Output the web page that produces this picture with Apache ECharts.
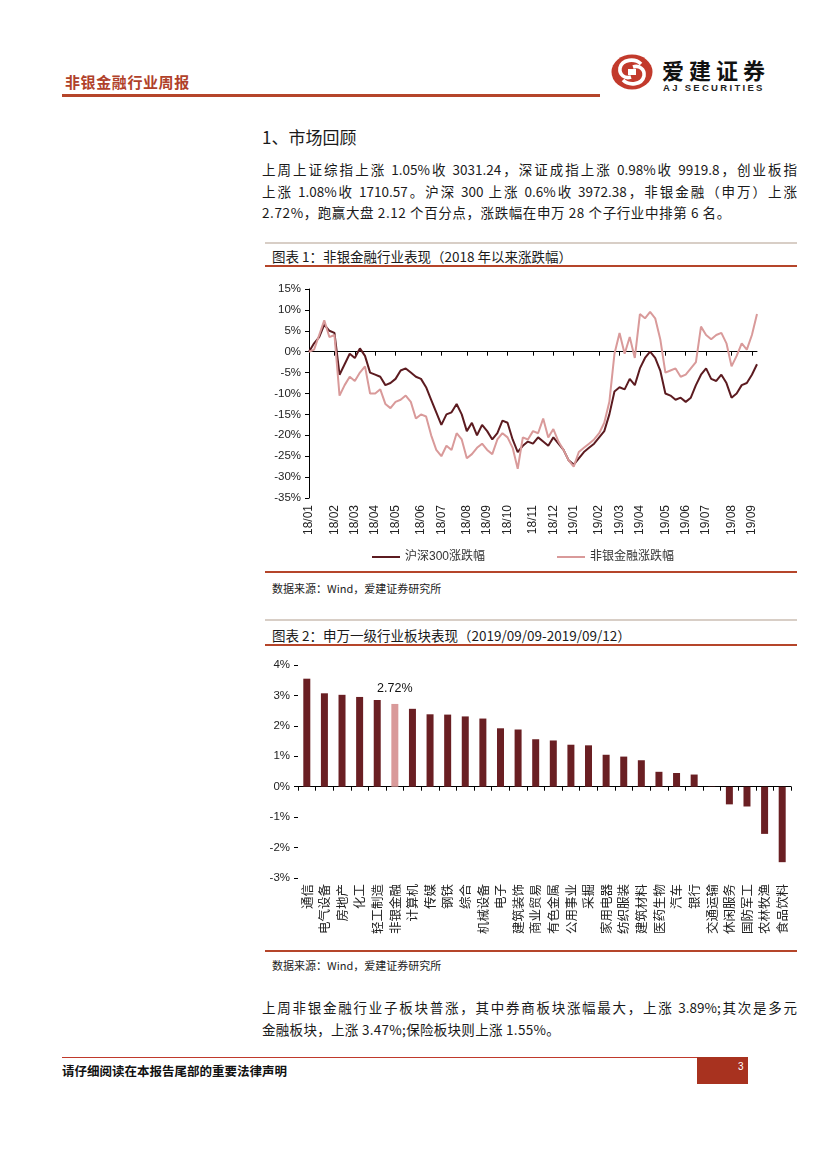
<!DOCTYPE html>
<html>
<head>
<meta charset="utf-8">
<script src="https://cdn.jsdelivr.net/npm/echarts@6/dist/echarts.min.js"></script>
<style>
body{margin:0;width:827px;height:1169px;position:relative;background:#fff;font-family:"Noto Sans CJK SC",sans-serif;color:#1a1a1a;overflow:hidden;}
.abs{position:absolute;}
.p{position:absolute;left:262px;width:535px;font-size:13.5px;line-height:21.5px;text-align:justify;text-align-last:justify;}
.pl{position:absolute;left:262px;font-size:13.5px;line-height:21.5px;white-space:nowrap;}
.gray{position:absolute;left:265px;width:532px;height:2px;background:#d8cec6;}
.red{position:absolute;left:265px;width:532px;height:2px;background:#b5452a;}
.ttl{position:absolute;left:272px;font-size:13.5px;line-height:16px;white-space:nowrap;}
.src{position:absolute;left:272px;font-size:11px;line-height:14px;white-space:nowrap;color:#222;}
</style>
</head>
<body>
<!-- header -->
<div class="abs" style="left:65px;top:73px;font-size:15px;line-height:18px;font-weight:bold;color:#b0412a;letter-spacing:0.6px;">非银金融行业周报</div>
<div class="abs" style="left:62px;top:94px;width:538px;height:3px;background:#b5452a;"></div>
<svg class="abs" style="left:610px;top:53px;" width="44" height="38" viewBox="0 0 44 38">
  <ellipse cx="22" cy="19" rx="20.5" ry="17.5" fill="#c23a2c"/>
  <path d="M31 11 C25 5,12 6,10 15 C9 22,15 26,21 24" stroke="#fff" stroke-width="3.6" fill="none"/>
  <path d="M13 27 C19 33,32 32,34 23 C35 16,29 12,23 14" stroke="#fff" stroke-width="3.6" fill="none"/>
  <rect x="18" y="16" width="8" height="6" fill="#fff"/>
</svg>
<div class="abs" style="left:662px;top:56px;font-size:22px;line-height:26px;letter-spacing:5px;color:#111;font-weight:bold;">爱建证券</div>
<div class="abs" style="left:663px;top:82px;font-size:9.5px;line-height:11px;letter-spacing:2.3px;color:#222;font-weight:bold;font-family:'Liberation Sans',Arial,sans-serif;">AJ SECURITIES</div>

<!-- section -->
<div class="abs" style="left:262px;top:126px;font-size:17px;line-height:22px;">1、市场回顾</div>
<div class="p" style="top:159px;">上周上证综指上涨 1.05%收 3031.24，深证成指上涨 0.98%收 9919.8，创业板指</div>
<div class="p" style="top:181px;">上涨 1.08%收 1710.57。沪深 300 上涨 0.6%收 3972.38，非银金融（申万）上涨</div>
<div class="pl" style="top:202px;letter-spacing:0.6px;">2.72%，跑赢大盘 2.12 个百分点，涨跌幅在申万 28 个子行业中排第 6 名。</div>

<!-- chart 1 -->
<div class="gray" style="top:242px;"></div>
<div class="ttl" style="top:248px;">图表 1：非银金融行业表现（2018 年以来涨跌幅）</div>
<div class="red" style="top:265px;"></div>
<div id="c1" class="abs" style="left:262px;top:270px;width:540px;height:300px;"></div>
<div class="red" style="top:571px;"></div>
<div class="src" style="top:581px;">数据来源：Wind，爱建证券研究所</div>

<!-- chart 2 -->
<div class="gray" style="top:619px;"></div>
<div class="ttl" style="top:627px;">图表 2：申万一级行业板块表现（2019/09/09-2019/09/12）</div>
<div class="red" style="top:644px;"></div>
<div id="c2" class="abs" style="left:262px;top:650px;width:540px;height:300px;"></div>
<div class="red" style="top:950px;"></div>
<div class="src" style="top:958px;">数据来源：Wind，爱建证券研究所</div>

<div class="p" style="top:997px;">上周非银金融行业子板块普涨，其中券商板块涨幅最大，上涨 3.89%;其次是多元</div>
<div class="pl" style="top:1019px;letter-spacing:0.3px;">金融板块，上涨 3.47%;保险板块则上涨 1.55%。</div>

<!-- footer -->
<div class="abs" style="left:62px;top:1057px;width:635px;height:1px;background:#c0392b;"></div>
<div class="abs" style="left:697px;top:1057px;width:51px;height:27px;background:#a8321f;"></div>
<div class="abs" style="left:738px;top:1061px;font-size:10px;line-height:12px;color:#fff;font-family:'Liberation Sans',sans-serif;">3</div>
<div class="abs" style="left:62px;top:1063px;font-size:12.5px;line-height:16px;font-weight:bold;color:#111;">请仔细阅读在本报告尾部的重要法律声明</div>

<script>
// ---------- Chart 1 data (weekly, % change since 2018-01-02) ----------
const weekDates = [
 '2018-01-02','2018-01-09','2018-01-16','2018-01-23','2018-01-30','2018-02-06','2018-02-13','2018-02-20','2018-02-27',
 '2018-03-06','2018-03-13','2018-03-20','2018-03-27','2018-04-03','2018-04-10','2018-04-17','2018-04-24',
 '2018-05-01','2018-05-08','2018-05-15','2018-05-22','2018-05-29','2018-06-05','2018-06-12','2018-06-19','2018-06-26',
 '2018-07-03','2018-07-10','2018-07-17','2018-07-24','2018-07-31','2018-08-07','2018-08-14','2018-08-21','2018-08-28',
 '2018-09-04','2018-09-11','2018-09-18','2018-09-25','2018-10-02','2018-10-09','2018-10-16','2018-10-23','2018-10-30',
 '2018-11-06','2018-11-13','2018-11-20','2018-11-27','2018-12-04','2018-12-11','2018-12-18','2018-12-25',
 '2019-01-01','2019-01-08','2019-01-15','2019-01-22','2019-01-29','2019-02-05','2019-02-12','2019-02-19','2019-02-26',
 '2019-03-05','2019-03-12','2019-03-19','2019-03-26','2019-04-02','2019-04-09','2019-04-16','2019-04-23','2019-04-30',
 '2019-05-07','2019-05-14','2019-05-21','2019-05-28','2019-06-04','2019-06-11','2019-06-18','2019-06-25',
 '2019-07-02','2019-07-09','2019-07-16','2019-07-23','2019-07-30','2019-08-06','2019-08-13','2019-08-20','2019-08-27',
 '2019-09-03','2019-09-12'
];
const hs300 = [
 0, 2.0, 3.5, 6.5, 5.0, 4.5, -5.5, -3.0, -0.5,
 -1.5, 0.8, -1.0, -5.0, -5.5, -6.0, -8.0, -7.5,
 -6.5, -4.5, -4.0, -5.0, -6.0, -6.5, -8.5, -11.5, -14.5,
 -17.5, -15.0, -14.5, -12.5, -15.0, -19.0, -17.0, -20.0, -17.5,
 -19.0, -21.0, -19.5, -16.5, -17.0, -21.0, -24.0, -22.5, -21.5,
 -22.0, -20.5, -21.5, -22.5, -20.5, -22.0, -23.5, -26.0,
 -27.0, -25.5, -24.0, -23.0, -22.0, -20.5, -19.0, -15.0, -9.5,
 -8.5, -9.0, -6.5, -8.0, -4.0, -1.5, 0.0, -1.5, -4.5,
 -10.0, -10.5, -11.5, -11.0, -12.0, -11.0, -8.0, -5.5,
 -4.0, -6.5, -7.0, -5.5, -7.5, -11.0, -10.0, -8.0, -7.5,
 -5.5, -3.0
];
const nonBank = [
 0, 0.5, 4.0, 7.5, 3.5, 4.0, -10.5, -8.0, -6.0,
 -7.0, -5.0, -3.5, -10.0, -10.0, -9.0, -12.5, -13.5,
 -12.0, -11.5, -10.5, -12.0, -16.0, -15.0, -15.5, -20.0, -23.5,
 -25.0, -22.5, -23.5, -19.5, -21.0, -25.5, -24.5, -23.0, -22.0,
 -23.5, -24.5, -21.0, -19.5, -20.5, -23.0, -28.0, -20.5, -21.0,
 -19.0, -19.5, -16.0, -20.5, -18.5, -21.5, -23.5, -26.0,
 -27.5, -24.0, -23.0, -22.0, -21.0, -19.5, -17.0, -12.0, -0.5,
 4.5, -0.5, 3.5, -1.5, 9.0, 8.0, 9.5, 8.0, 3.0,
 -5.0, -4.5, -4.0, -6.0, -5.5, -4.0, -2.5, 6.0,
 4.0, 3.0, 4.0, 4.5, 2.0, -3.5, -1.0, 2.0, 0.5,
 4.0, 9.0
];
const seriesNames1 = ['沪深300涨跌幅', '非银金融涨跌幅'];

// ---------- Chart 2 data ----------
const industries = ['通信','电气设备','房地产','化工','轻工制造','非银金融','计算机','传媒','钢铁','综合',
 '机械设备','电子','建筑装饰','商业贸易','有色金属','公用事业','采掘','家用电器','纺织服装','建筑材料',
 '医药生物','汽车','银行','交通运输','休闲服务','国防军工','农林牧渔','食品饮料'];
const weekChange = [3.55, 3.07, 3.02, 2.95, 2.85, 2.72, 2.56, 2.38, 2.37, 2.31,
 2.24, 1.92, 1.88, 1.56, 1.52, 1.38, 1.36, 1.05, 0.99, 0.87,
 0.49, 0.45, 0.40, -0.01, -0.58, -0.65, -1.55, -2.48];
const highlightName = '非银金融';

const DARK = '#5c1b20', PINK = '#d99a9a', BAR = '#6a1f23';
const FONT = "'Liberation Sans', 'Noto Sans CJK SC', sans-serif";

// month-start indices for chart 1 labels/ticks
const monthStarts = new Set();
weekDates.forEach((d, i) => { if (i === 0 || d.slice(0, 7) !== weekDates[i - 1].slice(0, 7)) monthStarts.add(i); });
const isMonthStart = (i) => monthStarts.has(i);

const c1 = echarts.init(document.getElementById('c1'));
c1.setOption({
  animation: false,
  textStyle: { fontFamily: FONT },
  grid: { left: 47, right: 45, top: 19, bottom: 72 },
  legend: {
    left: 105, top: 276, icon: 'rect', itemWidth: 28, itemHeight: 2, itemGap: 72,
    textStyle: { fontSize: 12, color: '#333', fontFamily: FONT },
    data: seriesNames1
  },
  xAxis: [
    { type: 'category', data: weekDates, boundaryGap: false,
      axisLine: { onZero: true, lineStyle: { color: '#000', width: 1 } },
      axisTick: { show: true, length: 4, interval: isMonthStart, lineStyle: { color: '#000' } },
      axisLabel: { show: false }, splitLine: { show: false } },
    { type: 'category', data: weekDates, boundaryGap: false, position: 'bottom',
      axisLine: { show: false, onZero: false }, axisTick: { show: false },
      axisLabel: { interval: isMonthStart, rotate: 90, margin: 7, fontSize: 12, color: '#222', fontFamily: FONT,
        formatter: v => v.slice(2, 4) + '/' + v.slice(5, 7) } }
  ],
  yAxis: {
    type: 'value', min: -35, max: 15, interval: 5,
    axisLine: { show: true, lineStyle: { color: '#000' } },
    axisTick: { show: true, length: 4, lineStyle: { color: '#000' } },
    splitLine: { show: false },
    axisLabel: { formatter: '{value}%', fontSize: 11.5, color: '#222', margin: 8, fontFamily: FONT }
  },
  series: [
    { name: seriesNames1[0], type: 'line', data: hs300, symbol: 'none', xAxisIndex: 0,
      lineStyle: { color: DARK, width: 2 }, itemStyle: { color: DARK } },
    { name: seriesNames1[1], type: 'line', data: nonBank, symbol: 'none', xAxisIndex: 0,
      lineStyle: { color: PINK, width: 2 }, itemStyle: { color: PINK } }
  ]
});

const c2 = echarts.init(document.getElementById('c2'));
c2.setOption({
  animation: false,
  textStyle: { fontFamily: FONT },
  grid: { left: 36, right: 11, top: 15, bottom: 72 },
  xAxis: [
    { type: 'category', data: industries,
      axisLine: { onZero: true, lineStyle: { color: '#000', width: 1 } },
      axisTick: { show: true, length: 4, interval: 0, lineStyle: { color: '#000' } },
      axisLabel: { show: false } },
    { type: 'category', data: industries, position: 'bottom',
      axisLine: { show: false, onZero: false }, axisTick: { show: false },
      axisLabel: { interval: 0, rotate: 90, margin: 6, fontSize: 12.5, color: '#222',
        fontFamily: "'Noto Sans CJK SC', sans-serif" } }
  ],
  yAxis: {
    type: 'value', min: -3, max: 4, interval: 1,
    axisLine: { show: false },
    axisTick: { show: true, length: 4, lineStyle: { color: '#000' } },
    splitLine: { show: false },
    axisLabel: { formatter: '{value}%', fontSize: 11.5, color: '#222', margin: 8, fontFamily: FONT }
  },
  series: [{
    type: 'bar', xAxisIndex: 0, barWidth: 7,
    data: weekChange.map((v, i) => industries[i] === highlightName
      ? { value: v, itemStyle: { color: PINK },
          label: { show: true, position: 'top', distance: 9, fontSize: 12.5, color: '#111', fontFamily: FONT,
                   formatter: p => p.value.toFixed(2) + '%' } }
      : { value: v, itemStyle: { color: BAR } })
  }]
});
</script>
</body>
</html>
